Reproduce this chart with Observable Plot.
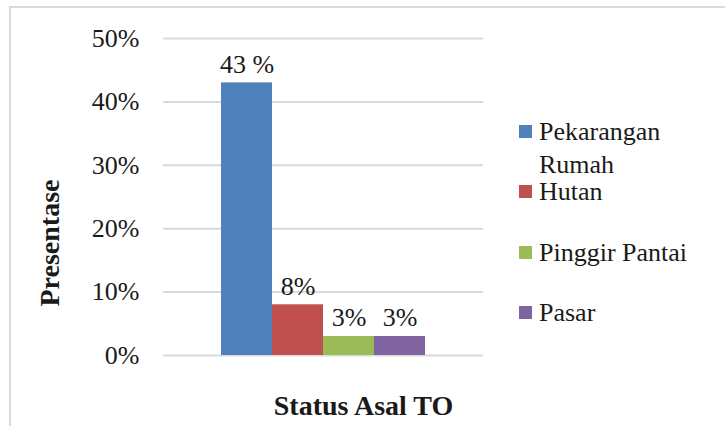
<!DOCTYPE html>
<html>
<head>
<meta charset="utf-8">
<script src="https://cdn.jsdelivr.net/npm/d3@7"></script>
<script src="https://cdn.jsdelivr.net/npm/@observablehq/plot@0.6"></script>
<style>
  html, body { margin: 0; padding: 0; background: #fff; }
  #wrap { position: relative; width: 725px; height: 426px; overflow: hidden; background: #fff;
          font-family: "Liberation Serif", "Times New Roman", serif; color: #1a1a1a; }
  #border { position: absolute; left: 9px; top: 6px; width: 800px; height: 500px;
            border-top: 2px solid #d9d9d9; border-left: 2px solid #d9d9d9; }
  #chart { position: absolute; left: 0; top: 0; }
  .lg-item { position: absolute; left: 519px; width: 206px; font-size: 26px; line-height: 33px; }
  .lg-sw { position: absolute; left: 0; top: 10px; width: 13px; height: 13px; }
  .lg-tx { position: absolute; left: 20px; top: 0; width: 180px; white-space: normal; }
</style>
</head>
<body>
<div id="wrap">
  <div id="border"></div>
  <div id="chart"></div>
  <div id="legend"></div>
</div>
<script>
// ---- data ----
const categories = ["Pekarangan Rumah", "Hutan", "Pinggir Pantai", "Pasar"];
const values = [0.43, 0.08, 0.03, 0.03];
const valueLabels = ["43 %", "8%", "3%", "3%"];
const colors = ["#4F81BD", "#C0504D", "#9BBB59", "#8064A2"];
const yTicks = [0, 0.1, 0.2, 0.3, 0.4, 0.5];
const yTitle = "Presentase";
const xTitle = "Status Asal TO";

const data = categories.map((c, i) => ({cat: c, v: values[i], label: valueLabels[i]}));
const fmt = d3.format(".0%");

const chart = Plot.plot({
  width: 725,
  height: 426,
  marginTop: 38,
  marginBottom: 71,
  marginLeft: 163,
  marginRight: 242,
  style: {
    fontFamily: '"Liberation Serif", "Times New Roman", serif',
    fontSize: "26px",
    color: "#1a1a1a",
    background: "transparent",
    overflow: "visible"
  },
  x: {domain: categories, paddingInner: 0, paddingOuter: 1.1, axis: null},
  y: {domain: [0, 0.5], axis: null},
  color: {domain: categories, range: colors},
  marks: [
    Plot.ruleY(yTicks, {stroke: "#d9d9d9", strokeWidth: 2, strokeOpacity: 1}),
    Plot.barY(data, {x: "cat", y: "v", fill: "cat"}),
    Plot.text(data, {x: "cat", y: "v", text: "label", lineAnchor: "bottom", dy: -10, fill: "#1a1a1a"}),
    Plot.axisY({ticks: yTicks, tickFormat: fmt, tickSize: 0, tickPadding: 24, label: null, fill: "#1a1a1a"}),
    Plot.text([yTitle], {frameAnchor: "left", textAnchor: "middle", rotate: -90, dx: -113, dy: 46, fontSize: 28, fontWeight: "bold", fill: "#1a1a1a"}),
    Plot.text([xTitle], {frameAnchor: "bottom", textAnchor: "middle", lineAnchor: "middle", dx: 40, dy: 51, fontSize: 28, fontWeight: "bold", fill: "#1a1a1a"})
  ]
});
document.getElementById("chart").appendChild(chart);

// ---- legend ----
const legend = document.getElementById("legend");
categories.forEach((c, i) => {
  const item = document.createElement("div");
  item.className = "lg-item";
  item.style.top = (115 + i * 60.3) + "px";
  const sw = document.createElement("div");
  sw.className = "lg-sw";
  sw.style.background = colors[i];
  const tx = document.createElement("div");
  tx.className = "lg-tx";
  tx.textContent = c;
  item.appendChild(sw);
  item.appendChild(tx);
  legend.appendChild(item);
});
</script>
</body>
</html>
